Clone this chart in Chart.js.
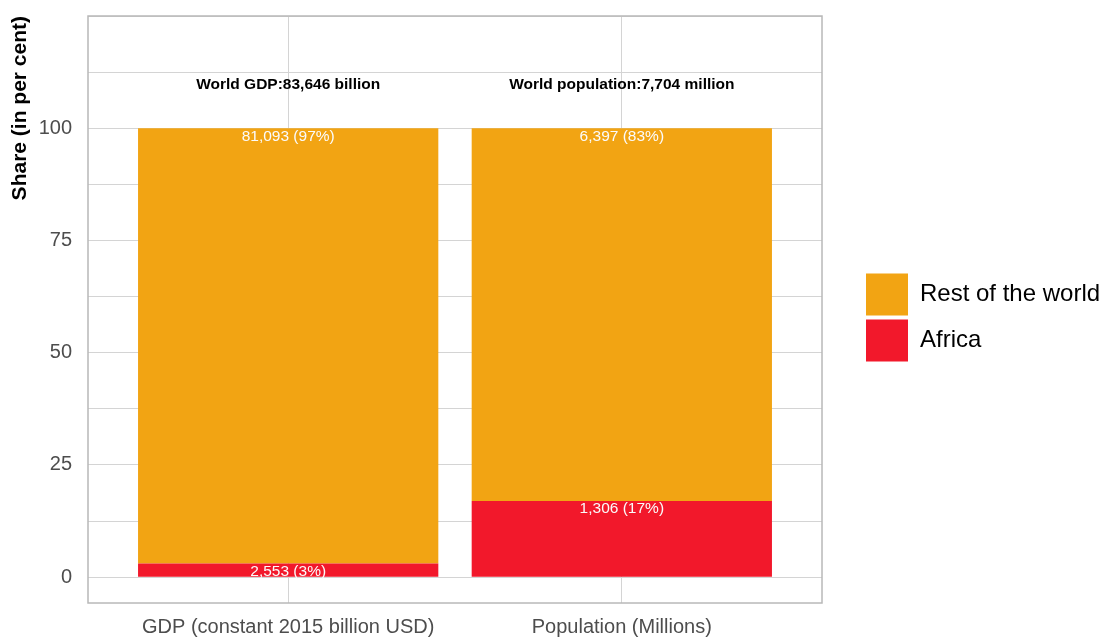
<!DOCTYPE html>
<html>
<head>
<meta charset="utf-8">
<title>Africa share of world GDP and population</title>
<script src="https://cdn.jsdelivr.net/npm/chart.js@4.4.1/dist/chart.umd.min.js"></script>
<style>
  html, body { margin: 0; padding: 0; background: #fff; }
  #wrap { width: 1105px; height: 637px; }
</style>
</head>
<body>
<div id="wrap"><canvas id="share-chart" width="1105" height="637"></canvas></div>
<script>
// Data
const categories = ['GDP (constant 2015 billion USD)', 'Population (Millions)'];
const africaShare = [3.05, 16.95];
const restShare = [96.95, 83.05];
const africaLabels = ['2,553 (3%)', '1,306 (17%)'];
const restLabels = ['81,093 (97%)', '6,397 (83%)'];
const worldLabels = ['World GDP:83,646 billion', 'World population:7,704 million'];
const yTicks = [0, 12.5, 25, 37.5, 50, 62.5, 75, 87.5, 100, 112.5, 125];

const orange = '#F2A413';
const red = '#F2182B';
const gridColor = '#d4d4d4';

Chart.defaults.font.family = '"Liberation Sans", Arial, sans-serif';

// Panel border around the plot area
const panelBorder = {
  id: 'panelBorder',
  afterLayout(chart) {
    // nudge the legend up a little, it sits slightly above centre in the original
    chart.legend.top -= 9;
    chart.legend.bottom -= 9;
  },
  afterDraw(chart) {
    const { ctx, chartArea } = chart;
    ctx.save();
    ctx.strokeStyle = '#b8b8b8';
    ctx.lineWidth = 1.5;
    ctx.strokeRect(chartArea.left, chartArea.top, chartArea.right - chartArea.left, chartArea.bottom - chartArea.top);
    ctx.restore();
  }
};

// Value labels on the segments and world totals above the bars
const barLabels = {
  id: 'barLabels',
  afterDatasetsDraw(chart) {
    const { ctx } = chart;
    const x = chart.scales.x;
    const y = chart.scales.y;
    ctx.save();
    ctx.textAlign = 'center';
    ctx.textBaseline = 'middle';
    ctx.fillStyle = '#fbfbfb';
    ctx.font = '15.5px "Liberation Sans", Arial, sans-serif';
    categories.forEach((c, i) => {
      const px = x.getPixelForValue(i + 1);
      ctx.fillText(africaLabels[i], px, y.getPixelForValue(africaShare[i]) + 8);
      ctx.fillText(restLabels[i], px, y.getPixelForValue(africaShare[i] + restShare[i]) + 8);
    });
    ctx.fillStyle = '#000';
    ctx.font = 'bold 15.5px "Liberation Sans", Arial, sans-serif';
    categories.forEach((c, i) => {
      ctx.fillText(worldLabels[i], x.getPixelForValue(i + 1), y.getPixelForValue(109.6));
    });
    ctx.restore();
  }
};

const noPad = (scale) => {
  scale.paddingTop = 0;
  scale.paddingBottom = 0;
};

const ctx = document.getElementById('share-chart').getContext('2d');
new Chart(ctx, {
  type: 'bar',
  data: {
    datasets: [
      {
        label: 'Africa',
        data: africaShare.map((v, i) => ({ x: i + 1, y: v })),
        backgroundColor: red
      },
      {
        label: 'Rest of the world',
        data: restShare.map((v, i) => ({ x: i + 1, y: v })),
        backgroundColor: orange
      }
    ]
  },
  options: {
    responsive: false,
    animation: false,
    barPercentage: 0.9,
    categoryPercentage: 1.0,
    layout: { padding: { top: 16, left: 0, right: 0, bottom: 0 } },
    plugins: {
      tooltip: { enabled: false },
      legend: {
        position: 'right',
        reverse: true,
        maxWidth: 243,
        labels: {
          boxWidth: 42,
          boxHeight: 42,
          padding: 4,
          color: '#000',
          font: { size: 24, lineHeight: 1.75 }
        }
      }
    },
    scales: {
      x: {
        type: 'linear',
        stacked: true,
        offset: false,
        min: 0.4,
        max: 2.6,
        afterBuildTicks: (scale) => {
          scale.ticks = categories.map((c, i) => ({ value: i + 1 }));
        },
        afterFit: (scale) => { scale.height = 34; },
        grid: { color: gridColor, drawTicks: false, offset: false },
        border: { display: false },
        ticks: {
          padding: 12,
          color: '#4d4d4d',
          font: { size: 20 },
          autoSkip: false,
          maxRotation: 0,
          callback: (value) => categories[value - 1]
        }
      },
      y: {
        stacked: true,
        min: -5.75,
        max: 125,
        afterBuildTicks: (scale) => {
          scale.ticks = yTicks.map(v => ({ value: v }));
        },
        afterFit: (scale) => { scale.width = 88; noPad(scale); },
        grid: { color: gridColor, drawTicks: false },
        border: { display: false },
        ticks: {
          padding: 16,
          color: '#4d4d4d',
          font: { size: 20 },
          callback: (value) => (value % 25 === 0 && value < 125 ? value : '')
        },
        title: {
          display: true,
          text: 'Share (in per cent)',
          align: 'end',
          color: '#000',
          font: { size: 21, weight: 'bold' },
          padding: { top: 8, bottom: 0 }
        }
      },
      gap: {
        type: 'linear',
        position: 'right',
        display: true,
        grid: { display: false },
        border: { display: false },
        ticks: { display: false },
        afterFit: (scale) => { scale.width = 40; noPad(scale); }
      }
    }
  },
  plugins: [panelBorder, barLabels]
});
</script>
</body>
</html>
